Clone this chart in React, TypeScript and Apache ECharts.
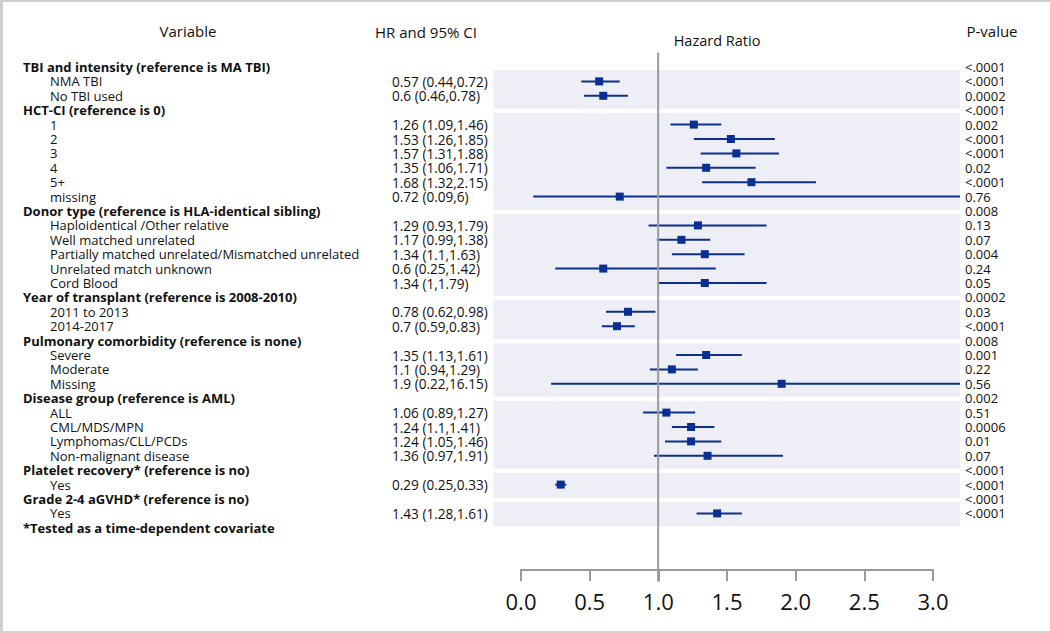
import React, { useEffect, useRef } from "react";
import * as echarts from "echarts";

const variables = [
  "TBI and intensity (reference is MA TBI)", "NMA TBI", "No TBI used",
  "HCT-CI (reference is 0)", "1", "2", "3", "4", "5+", "missing",
  "Donor type (reference is HLA-identical sibling)", "Haploidentical /Other relative", "Well matched unrelated",
  "Partially matched unrelated/Mismatched unrelated", "Unrelated match unknown", "Cord Blood",
  "Year of transplant (reference is 2008-2010)", "2011 to 2013", "2014-2017",
  "Pulmonary comorbidity (reference is none)", "Severe", "Moderate", "Missing",
  "Disease group (reference is AML)", "ALL", "CML/MDS/MPN", "Lymphomas/CLL/PCDs", "Non-malignant disease",
  "Platelet recovery* (reference is no)", "Yes",
  "Grade 2-4 aGVHD* (reference is no)", "Yes",
  "*Tested as a time-dependent covariate",
];
const headerRows = [0, 3, 10, 16, 19, 23, 28, 30, 32];

const hr: (number | null)[] = [null, 0.57, 0.6, null, 1.26, 1.53, 1.57, 1.35, 1.68, 0.72, null, 1.29, 1.17, 1.34, 0.6, 1.34, null, 0.78, 0.7, null, 1.35, 1.1, 1.9, null, 1.06, 1.24, 1.24, 1.36, null, 0.29, null, 1.43, null];
const lo: (number | null)[] = [null, 0.44, 0.46, null, 1.09, 1.26, 1.31, 1.06, 1.32, 0.09, null, 0.93, 0.99, 1.1, 0.25, 1, null, 0.62, 0.59, null, 1.13, 0.94, 0.22, null, 0.89, 1.1, 1.05, 0.97, null, 0.25, null, 1.28, null];
const hi: (number | null)[] = [null, 0.72, 0.78, null, 1.46, 1.85, 1.88, 1.71, 2.15, 6, null, 1.79, 1.38, 1.63, 1.42, 1.79, null, 0.98, 0.83, null, 1.61, 1.29, 16.15, null, 1.27, 1.41, 1.46, 1.91, null, 0.33, null, 1.61, null];
const hrText = ["", "0.57 (0.44,0.72)", "0.6 (0.46,0.78)", "", "1.26 (1.09,1.46)", "1.53 (1.26,1.85)", "1.57 (1.31,1.88)", "1.35 (1.06,1.71)", "1.68 (1.32,2.15)", "0.72 (0.09,6)", "", "1.29 (0.93,1.79)", "1.17 (0.99,1.38)", "1.34 (1.1,1.63)", "0.6 (0.25,1.42)", "1.34 (1,1.79)", "", "0.78 (0.62,0.98)", "0.7 (0.59,0.83)", "", "1.35 (1.13,1.61)", "1.1 (0.94,1.29)", "1.9 (0.22,16.15)", "", "1.06 (0.89,1.27)", "1.24 (1.1,1.41)", "1.24 (1.05,1.46)", "1.36 (0.97,1.91)", "", "0.29 (0.25,0.33)", "", "1.43 (1.28,1.61)", ""];
const pValues = ["<.0001", "<.0001", "0.0002", "<.0001", "0.002", "<.0001", "<.0001", "0.02", "<.0001", "0.76", "0.008", "0.13", "0.07", "0.004", "0.24", "0.05", "0.0002", "0.03", "<.0001", "0.008", "0.001", "0.22", "0.56", "0.002", "0.51", "0.0006", "0.01", "0.07", "<.0001", "<.0001", "<.0001", "<.0001", ""];
const bandGroups = [[1, 2], [4, 9], [11, 15], [17, 18], [20, 22], [24, 27], [29, 29], [31, 31]];
const axisTicks = [0, 0.5, 1, 1.5, 2, 2.5, 3];
const refValue = 1;

const FONT = "'Open Sans', 'Noto Sans', sans-serif";
const XMIN = -0.2, XMAX = 3.2;

export default function App() {
  const ref = useRef<HTMLDivElement>(null);
  useEffect(() => {
    if (!ref.current) return;
    const chart = echarts.init(ref.current, null, { renderer: "svg" });
    const forestData = hr
      .map((v, i) => (v == null ? null : [v, i, lo[i], hi[i]]))
      .filter((d) => d != null) as number[][];
    const option: any = {
      animation: false,
      backgroundColor: "#ffffff",
      grid: [
        { left: 493.5, right: 90, top: 52.6, bottom: 51.2 },
        { left: 521, right: 117, top: 560, height: 10 },
      ],
      xAxis: [
        { type: "value", gridIndex: 0, min: XMIN, max: XMAX, show: false },
        {
          type: "value", gridIndex: 1, min: 0, max: 3, interval: 0.5,
          axisLine: { show: true, lineStyle: { color: "#9a9a9a", width: 2 } },
          axisTick: { show: true, length: 11, inside: false, lineStyle: { color: "#9a9a9a", width: 2 } },
          axisLabel: { fontSize: 22, color: "#111", margin: 20, fontFamily: FONT, formatter: (v: number) => v.toFixed(1), customValues: axisTicks },
          splitLine: { show: false },
        },
      ],
      yAxis: [
        { type: "value", gridIndex: 0, min: -1, max: 35.75, inverse: true, show: false },
        { type: "value", gridIndex: 1, min: 0, max: 1, show: false },
      ],
      graphic: [
        { type: "line", shape: { x1: 1.5, y1: 0, x2: 1.5, y2: 633 }, style: { stroke: "#d0d0d0", lineWidth: 3 } },
        { type: "line", shape: { x1: 0, y1: 1, x2: 1050, y2: 1 }, style: { stroke: "#d0d0d0", lineWidth: 2 } },
        { type: "line", shape: { x1: 0, y1: 632, x2: 1050, y2: 632 }, style: { stroke: "#d0d0d0", lineWidth: 2 } },
        { type: "text", x: 188, y: 31, style: { text: "Variable", font: `15px ${FONT}`, fill: "#111", align: "center", verticalAlign: "middle" } },
        { type: "text", x: 426, y: 32, style: { text: "HR and 95% CI", font: `15px ${FONT}`, fill: "#111", align: "center", verticalAlign: "middle" } },
        { type: "text", x: 717, y: 40, style: { text: "Hazard Ratio", font: `14.5px ${FONT}`, fill: "#111", align: "center", verticalAlign: "middle" } },
        { type: "text", x: 992, y: 31, style: { text: "P-value", font: `15px ${FONT}`, fill: "#111", align: "center", verticalAlign: "middle" } },
      ],
      series: [
        {
          type: "custom", xAxisIndex: 0, yAxisIndex: 0, z: 1, silent: true,
          data: bandGroups.map((g) => [g[0] - 0.8, g[1] + 0.9]),
          renderItem: (params: any, api: any) => {
            const a = api.coord([XMIN, api.value(0)]);
            const b = api.coord([XMAX, api.value(1)]);
            return { type: "rect", shape: { x: a[0], y: a[1], width: b[0] - a[0], height: b[1] - a[1] }, style: { fill: "#eeeef6" } };
          },
        },
        {
          type: "custom", xAxisIndex: 0, yAxisIndex: 0, z: 3, silent: true, clip: false,
          encode: { x: [0, 2, 3], y: 1 },
          data: forestData,
          renderItem: (params: any, api: any) => {
            const row = api.value(1);
            const c = api.coord([api.value(0), row]);
            const l = api.coord([Math.max(api.value(2), XMIN), row]);
            const h = api.coord([Math.min(api.value(3), XMAX), row]);
            return {
              type: "group",
              children: [
                { type: "line", shape: { x1: l[0], y1: l[1], x2: h[0], y2: h[1] }, style: { stroke: "#0d2f8e", lineWidth: 2 } },
                { type: "rect", shape: { x: c[0] - 4, y: c[1] - 4, width: 8, height: 8 }, style: { fill: "#0a2f93" } },
              ],
            };
          },
        },
        {
          type: "line", xAxisIndex: 0, yAxisIndex: 0, z: 4, silent: true, symbol: "none",
          data: [[refValue, -1], [refValue, 35.75]],
          lineStyle: { color: "#9a9a9a", width: 2 },
        },
        {
          type: "custom", xAxisIndex: 0, yAxisIndex: 0, z: 5, silent: true, clip: false,
          data: variables.map((_, i) => [0, i]),
          renderItem: (params: any, api: any) => {
            const i = params.dataIndex;
            const y = api.coord([0, api.value(1)])[1];
            const isH = headerRows.indexOf(i) >= 0;
            const children: any[] = [
              { type: "text", x: isH ? 23 : 50, y, style: { text: variables[i], font: `${isH ? "bold " : ""}13px ${FONT}`, lineHeight: 13, fill: "#111", verticalAlign: "middle" } },
            ];
            if (hrText[i]) children.push({ type: "text", x: 392, y, style: { text: hrText[i], font: `13.6px ${FONT}`, lineHeight: 13, fill: "#111", verticalAlign: "middle" } });
            if (pValues[i]) children.push({ type: "text", x: 965, y, style: { text: pValues[i], font: `13px ${FONT}`, lineHeight: 13, fill: "#111", verticalAlign: "middle" } });
            return { type: "group", children };
          },
        },
      ],
    };
    chart.setOption(option);
    return () => chart.dispose();
  }, []);
  return <div ref={ref} style={{ position: "fixed", left: 0, top: 0, width: 1050, height: 633 }} />;
}
